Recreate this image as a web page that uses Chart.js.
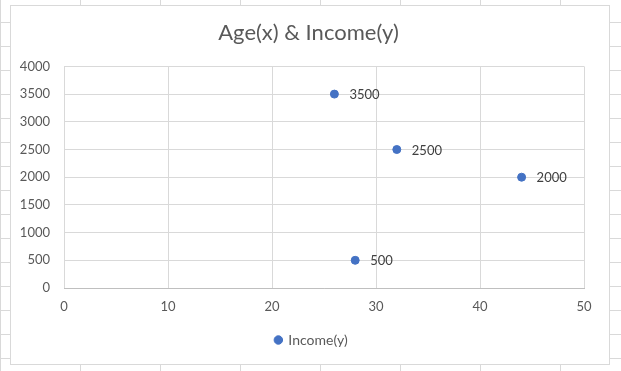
<!DOCTYPE html>
<html>
<head>
<meta charset="utf-8">
<script src="https://cdn.jsdelivr.net/npm/chart.js@4.4.1/dist/chart.umd.min.js"></script>
<style>
  html, body { margin: 0; padding: 0; }
  body {
    width: 621px; height: 371px; position: relative; overflow: hidden;
    background-color: #fff;
    background-image:
      linear-gradient(to right, #d9d9d9 1px, transparent 1px),
      linear-gradient(to bottom, #d9d9d9 1px, transparent 1px);
    background-size: 80px 24px;
    background-position: 0px 22px;
  }
  #box {
    position: absolute; left: 10px; top: 5px;
    width: 598px; height: 358px;
    border: 1px solid #d9d9d9; background: #fff;
  }
  #box canvas { display: block; }
</style>
</head>
<body>
<div id="box"><canvas id="chart" width="598" height="358"></canvas></div>
<script>
const ages = [26, 32, 44, 28];
const incomes = [3500, 2500, 2000, 500];
const seriesName = 'Income(y)';
const chartTitle = 'Age(x) & Income(y)';

const fontName = 'Lato';
const txtColor = '#595959';

// draws the value next to every point, like Excel's data labels
const valueLabels = {
    id: 'valueLabels',
    afterDatasetsDraw(chart) {
        const ctx = chart.ctx;
        const meta = chart.getDatasetMeta(0);
        ctx.save();
        ctx.font = '13px ' + fontName;
        ctx.fillStyle = '#404040';
        ctx.textAlign = 'left';
        ctx.textBaseline = 'middle';
        meta.data.forEach((pt, i) => {
            ctx.fillText(String(incomes[i]), pt.x + 15, pt.y + 1);
        });
        ctx.restore();
    }
};

// excel centres title and legend on the whole chart box, not on the plot
const nudge = {
    id: 'nudge',
    afterLayout(chart) {
        if (chart.titleBlock) chart.titleBlock.left += 22;
        if (chart.legend) chart.legend.left += 28;
    }
};

const pts = ages.map((a, i) => ({x: a, y: incomes[i]}));

new Chart(document.getElementById('chart').getContext('2d'), {
    type: 'scatter',
    data: {
        datasets: [{
            label: seriesName,
            data: pts,
            backgroundColor: '#4472C4',
            borderColor: '#4472C4',
            pointRadius: 4,
            pointHoverRadius: 4
        }]
    },
    options: {
        responsive: false,
        animation: false,
        layout: {padding: {left: 0, right: 25, top: 0, bottom: 7}},
        plugins: {
            title: {
                display: true,
                text: chartTitle,
                color: txtColor,
                font: {family: fontName, size: 22, weight: 'normal'},
                padding: {top: 14, bottom: 20}
            },
            legend: {
                position: 'bottom',
                labels: {
                    usePointStyle: true,
                    boxWidth: 6,
                    boxHeight: 6,
                    padding: 10,
                    color: txtColor,
                    font: {family: fontName, size: 14}
                }
            },
            tooltip: {enabled: false}
        },
        scales: {
            x: {
                type: 'linear',
                min: 0,
                max: 50,
                ticks: {
                    stepSize: 10, color: txtColor, padding: 11,
                    font: {family: fontName, size: 13},
                    callback: v => String(v)
                },
                grid: {color: '#d9d9d9', drawTicks: false},
                border: {color: '#bfbfbf'},
                afterFit(s) { s.height = 35; }
            },
            y: {
                min: 0,
                max: 4000,
                ticks: {
                    stepSize: 500, color: txtColor, padding: 14,
                    font: {family: fontName, size: 13},
                    callback: v => String(v)
                },
                grid: {color: '#d9d9d9', drawTicks: false},
                border: {display: false},
                afterFit(s) { s.width = 53; }
            }
        }
    },
    plugins: [valueLabels, nudge]
});
</script>
</body>
</html>
